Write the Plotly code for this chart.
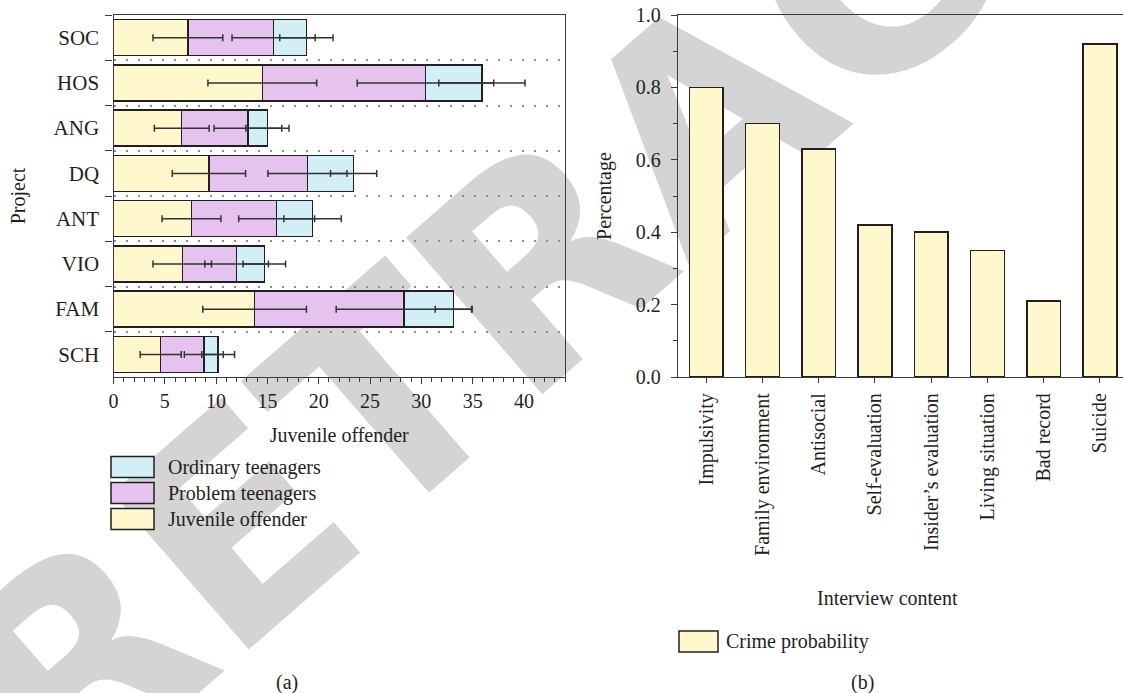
import plotly.graph_objects as go

# ---- Panel (a): scores per project, stacked by group (segment lengths) ----
projects = ["SOC", "HOS", "ANG", "DQ", "ANT", "VIO", "FAM", "SCH"]
juvenile_offender = [7.25, 14.5, 6.65, 9.3, 7.6, 6.7, 13.75, 4.6]
problem_teenagers = [8.35, 15.9, 6.45, 9.6, 8.3, 5.3, 14.55, 4.2]
ordinary_teenagers = [3.2, 5.5, 1.9, 4.5, 3.5, 2.7, 4.85, 1.4]
juvenile_offender_err = [3.4, 5.3, 2.67, 3.57, 2.87, 2.85, 5.05, 2.0]
problem_teenagers_err = [4.05, 6.65, 3.3, 3.85, 3.7, 3.1, 6.6, 1.9]
ordinary_teenagers_err = [2.6, 4.2, 2.1, 2.25, 2.8, 2.07, 1.8, 1.6]
x_ticks_a = [0, 5, 10, 15, 20, 25, 30, 35, 40]

# ---- Panel (b): crime probability per interview item ----
interview_items = ["Impulsivity", "Family environment", "Antisocial", "Self-evaluation",
                   "Insider\u2019s evaluation", "Living situation", "Bad record", "Suicide"]
crime_probability = [0.80, 0.70, 0.63, 0.42, 0.40, 0.35, 0.21, 0.92]

W, H = 1123, 693
FONT = "Liberation Serif"
INK = "#231f20"
AXIS = "#3a3a3a"
YELLOW, PURPLE, CYAN = "#fff8cd", "#e6c2ef", "#d2eff6"


def px(x):
    return x / W


def py(y):
    return 1 - y / H


bar_line = dict(color=INK, width=1.5)
groups = [
    ("Juvenile offender", juvenile_offender, juvenile_offender_err, YELLOW),
    ("Problem teenagers", problem_teenagers, problem_teenagers_err, PURPLE),
    ("Ordinary teenagers", ordinary_teenagers, ordinary_teenagers_err, CYAN),
]

fig = go.Figure()
for name, vals, errs, col in groups:
    fig.add_trace(go.Bar(
        name=name, y=projects, x=vals, orientation="h", width=0.8,
        marker=dict(color=col, line=bar_line),
        xaxis="x", yaxis="y", showlegend=False,
    ))

# Error bars sit at the end of each stacked segment and are drawn over all bars
running = [0.0] * len(projects)
for name, vals, errs, col in groups:
    running = [r + v for r, v in zip(running, vals)]
    fig.add_trace(go.Scatter(
        name=name + " SD", y=projects, x=list(running), mode="markers",
        marker=dict(size=1, color="rgba(0,0,0,0)"),
        error_x=dict(type="data", array=errs, color="#333333", thickness=1.5, width=3.5),
        xaxis="x", yaxis="y", showlegend=False, hoverinfo="skip",
    ))

fig.add_trace(go.Bar(
    name="Crime probability", x=interview_items, y=crime_probability, width=0.6,
    marker=dict(color=YELLOW, line=bar_line),
    xaxis="x2", yaxis="y2", showlegend=False,
))

tick_font = dict(family=FONT, size=20, color=INK)
title_font = dict(family=FONT, size=20, color=INK)

fig.update_layout(
    width=W, height=H,
    margin=dict(l=0, r=0, t=0, b=0, autoexpand=False),
    paper_bgcolor="white", plot_bgcolor="rgba(0,0,0,0)",
    barmode="stack",
    font=dict(family=FONT, size=20, color=INK),
    xaxis=dict(
        domain=[px(113.5), px(565)], anchor="y", range=[0, 44], automargin=False,
        tickvals=x_ticks_a, ticks="outside", ticklen=6, tickwidth=1.3, tickcolor=AXIS,
        minor=dict(dtick=1, tick0=0, ticks="outside", ticklen=3.5, tickwidth=1.2, tickcolor=AXIS),
        showline=True, linecolor=AXIS, linewidth=1.4, mirror=True,
        showgrid=False, zeroline=False, tickfont=tick_font,
        title=dict(text="Juvenile offender", font=title_font, standoff=16),
    ),
    yaxis=dict(
        domain=[py(377), py(15)], anchor="x", type="category", automargin=False,
        categoryorder="array", categoryarray=projects, range=[7.5, -0.5],
        tickson="boundaries", ticks="outside", ticklen=7, tickwidth=1.3, tickcolor=AXIS,
        showline=True, linecolor=AXIS, linewidth=1.4, mirror=True,
        showgrid=True, gridcolor="#8c8c8c", gridwidth=1.6, griddash="2px,10px",
        zeroline=False, tickfont=dict(family=FONT, size=21, color=INK), ticklabelstandoff=9,
        title=dict(text="Project", font=title_font, standoff=22),
    ),
    xaxis2=dict(
        domain=[px(678), 1.0], anchor="y2", type="category", automargin=False,
        categoryorder="array", categoryarray=interview_items, range=[-0.5, 7.41],
        ticks="outside", ticklen=5, tickwidth=1.3, tickcolor=AXIS, tickangle=-90,
        showline=True, linecolor=AXIS, linewidth=1.4, mirror=True,
        showgrid=False, zeroline=False, tickfont=tick_font, ticklabelstandoff=2,
    ),
    yaxis2=dict(
        domain=[py(377), py(15)], anchor="x2", range=[0, 1], automargin=False,
        tick0=0, dtick=0.2, tickformat=".1f",
        ticks="outside", ticklen=6, tickwidth=1.3, tickcolor=AXIS,
        minor=dict(dtick=0.1, tick0=0, ticks="outside", ticklen=4, tickwidth=1.2, tickcolor=AXIS),
        showline=True, linecolor=AXIS, linewidth=1.4, mirror=False,
        showgrid=False, zeroline=False, tickfont=tick_font, ticklabelstandoff=6,
        title=dict(text="Percentage", font=title_font, standoff=18),
    ),
)

shapes = []
annotations = []

# Diagonal stamp across the figure, drawn underneath the plots
shapes.append(dict(
    type="rect", xref="paper", yref="paper", layer="below",
    x0=px(694), x1=px(698), y0=py(105), y1=py(101),
    line=dict(width=0), fillcolor="rgba(0,0,0,0)",
    label=dict(text="RETRACTED", textangle=-41, textposition="middle center",
               font=dict(family="DejaVu Sans", size=285, color="#d4d4d4", weight="bold")),
))

# Legend for panel (a)
legend_a = [("Ordinary teenagers", CYAN, 467), ("Problem teenagers", PURPLE, 493),
            ("Juvenile offender", YELLOW, 519)]
for label, col, yc in legend_a:
    shapes.append(dict(type="rect", xref="paper", yref="paper",
                       x0=px(111), x1=px(154), y0=py(yc + 10.5), y1=py(yc - 10.5),
                       fillcolor=col, line=dict(color=INK, width=1.5)))
    annotations.append(dict(text=label, xref="paper", yref="paper", x=px(166), y=py(yc),
                            xanchor="left", yanchor="middle", showarrow=False,
                            font=title_font))

# Legend for panel (b)
shapes.append(dict(type="rect", xref="paper", yref="paper",
                   x0=px(679), x1=px(718), y0=py(652), y1=py(631),
                   fillcolor=YELLOW, line=dict(color=INK, width=1.5)))
annotations.append(dict(text="Crime probability", xref="paper", yref="paper", x=px(724), y=py(641),
                        xanchor="left", yanchor="middle", showarrow=False, font=title_font))

# Axis title for panel (b) and panel captions
annotations.append(dict(text="Interview content", xref="paper", yref="paper", x=px(887), y=py(598),
                        xanchor="center", yanchor="middle", showarrow=False, font=title_font))
annotations.append(dict(text="(a)", xref="paper", yref="paper", x=px(287), y=py(682),
                        xanchor="center", yanchor="middle", showarrow=False, font=title_font))
annotations.append(dict(text="(b)", xref="paper", yref="paper", x=px(862), y=py(682),
                        xanchor="center", yanchor="middle", showarrow=False, font=title_font))

fig.update_layout(shapes=shapes, annotations=annotations)

fig.write_html("out.html")
